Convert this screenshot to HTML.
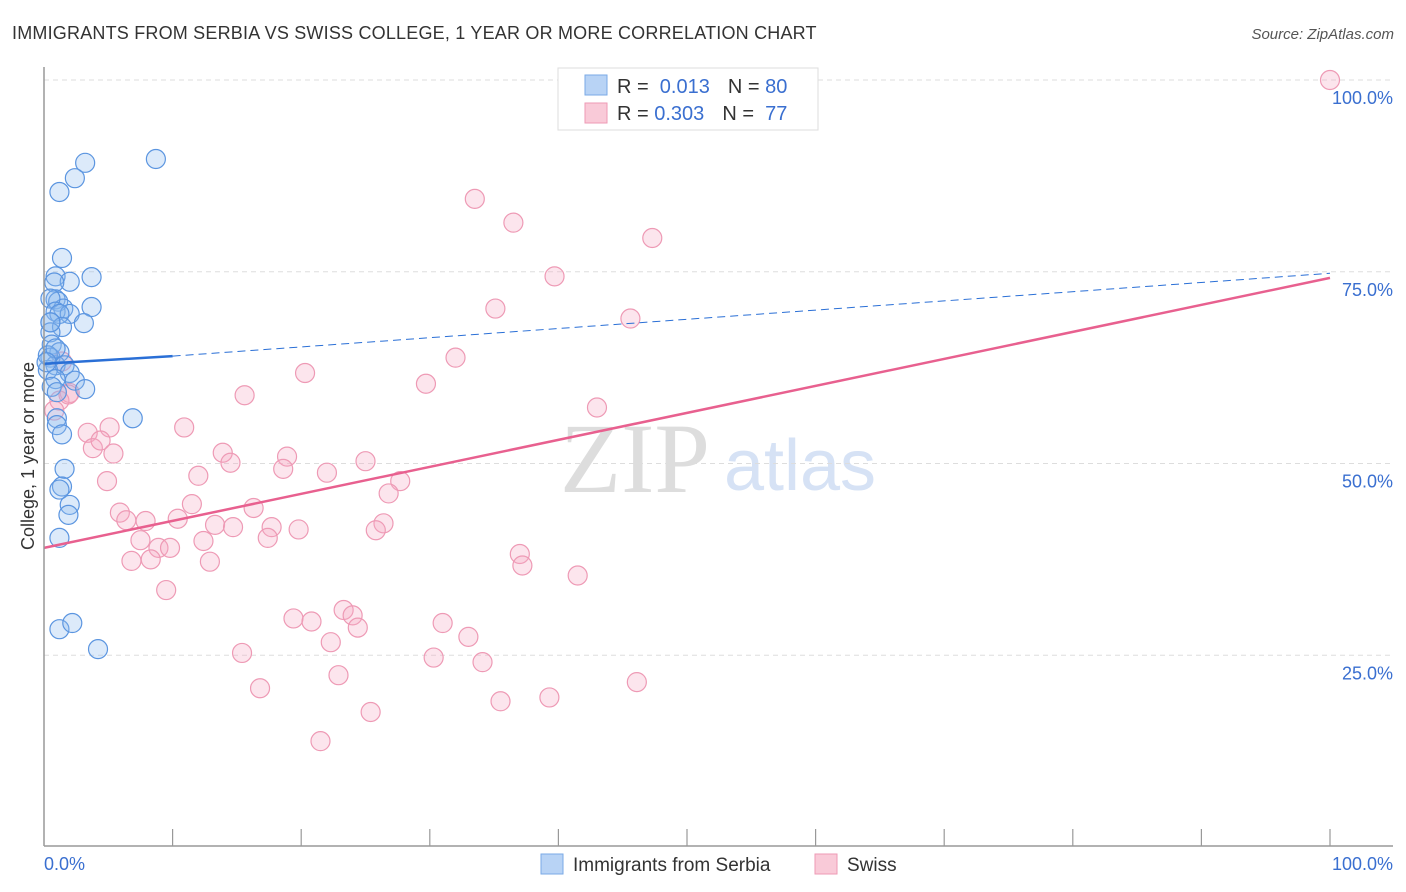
<!DOCTYPE html>
<html><head><meta charset="utf-8"><style>
body{margin:0;background:#fff;font-family:"Liberation Sans",sans-serif;}
svg{display:block}
</style></head><body>
<svg id="chart" width="1406" height="892">
<text x="12" y="39" font-size="18" fill="#333" letter-spacing="0.2">IMMIGRANTS FROM SERBIA VS SWISS COLLEGE, 1 YEAR OR MORE CORRELATION CHART</text>
<text x="1394" y="39" font-size="15" fill="#555" font-style="italic" text-anchor="end">Source: ZipAtlas.com</text>
<text x="34" y="456" font-size="18" fill="#333" text-anchor="middle" transform="rotate(-90 34 456)">College, 1 year or more</text>
<text x="635" y="492" font-size="100" fill="#ddd" font-family="Liberation Serif,serif" text-anchor="middle">ZIP</text>
<text x="800" y="490" font-size="72" fill="#d6e2f5" text-anchor="middle">atlas</text>
<g id="grid"></g><g id="marks"></g>
<line x1="44" y1="67" x2="44" y2="846" stroke="#999" stroke-width="1.5"/>
<line x1="44" y1="846" x2="1393" y2="846" stroke="#999" stroke-width="1.5"/>
<text x="44" y="870" font-size="18" fill="#3a6fd0">0.0%</text>
<text x="1393" y="870" font-size="18" fill="#3a6fd0" text-anchor="end">100.0%</text>
<g>
<rect x="558" y="68" width="260" height="62" fill="#fff" stroke="#ddd"/>
<rect x="585" y="75" width="22" height="20" fill="#b8d3f5" stroke="#7aa9e6"/>
<rect x="585" y="103" width="22" height="20" fill="#f9cad8" stroke="#ee9ab5"/>
<text x="617" y="93" font-size="20" fill="#333">R = <tspan fill="#3a6fd0">&#160;0.013</tspan><tspan dx="18">N = </tspan><tspan fill="#3a6fd0">80</tspan></text>
<text x="617" y="120" font-size="20" fill="#333">R = <tspan fill="#3a6fd0">0.303</tspan><tspan dx="18">N = </tspan><tspan fill="#3a6fd0">&#160;77</tspan></text>
</g>
<g>
<rect x="541" y="854" width="22" height="20" fill="#b8d3f5" stroke="#7aa9e6"/>
<text x="573" y="871" font-size="19" fill="#333">Immigrants from Serbia</text>
<rect x="815" y="854" width="22" height="20" fill="#f9cad8" stroke="#ee9ab5"/>
<text x="847" y="871" font-size="19" fill="#333">Swiss</text>
</g>
</svg>
<script>
const yTicks=[25,50,75,100];
const yTickLabels=["25.0%","50.0%","75.0%","100.0%"];
const xTicks=[10,20,30,40,50,60,70,80,90,100];
const blueX=[3.2,8.7,2.4,1.2,1.4,0.9,3.7,2.0,0.8,0.9,3.7,1.1,1.5,0.5,0.9,2.0,1.2,3.1,0.5,1.4,0.5,0.6,1.2,0.5,0.9,1.6,0.3,2.0,0.9,2.4,0.6,3.2,1.0,6.9,1.0,1.0,1.4,1.6,1.4,1.2,2.0,1.9,1.2,1.2,2.2,4.2,0.5,0.3,0.9,0.2];
const blueY=[89.2,89.7,87.2,85.4,76.8,74.4,74.3,73.7,73.6,71.4,70.4,71.1,70.2,71.5,69.8,69.5,69.5,68.3,68.4,67.8,67.1,65.5,64.5,63.8,62.8,62.8,62.2,61.8,61.0,60.8,60.0,59.7,59.3,55.9,55.9,55.0,53.8,49.3,47.0,46.6,44.6,43.3,40.3,28.4,29.2,25.8,68.4,64.1,65.0,63.2];
const pinkX=[33.5,36.5,47.3,39.7,35.1,45.6,32.0,20.3,29.7,15.6,43.0,5.1,10.9,3.4,3.8,4.4,5.4,13.9,18.9,14.5,25.0,18.6,22.0,12.0,4.9,27.7,26.8,16.3,11.5,5.9,6.4,7.9,10.4,13.3,14.7,17.7,19.8,26.4,25.8,17.4,7.5,12.4,8.9,9.8,6.8,8.3,12.9,37.0,37.2,41.5,9.5,23.3,24.0,19.4,20.8,24.4,31.0,33.0,22.3,15.4,30.3,34.1,46.1,22.9,16.8,39.3,35.5,25.4,21.5,100,1.4,2.0,1.2,0.8,1.9];
const pinkY=[84.5,81.4,79.4,74.4,70.2,68.9,63.8,61.8,60.4,58.9,57.3,54.7,54.7,54.0,52.0,53.0,51.3,51.4,50.9,50.1,50.3,49.3,48.8,48.4,47.7,47.7,46.1,44.2,44.7,43.6,42.6,42.5,42.8,42.0,41.7,41.7,41.4,42.2,41.3,40.3,40.0,39.9,39.0,39.0,37.3,37.5,37.2,38.2,36.7,35.4,33.5,30.9,30.2,29.8,29.4,28.6,29.2,27.4,26.7,25.3,24.7,24.1,21.5,22.4,20.7,19.5,19.0,17.6,13.8,100,63.3,59.2,58.2,56.9,59.0];
const blueTrend=[0,10,63.0,64.0,100,74.8];
const pinkTrend=[0,39.0,100,74.2];
const X0=44,X1=1330,Y0=847,Y100=80;
const sx=v=>X0+(X1-X0)*v/100, sy=v=>Y0-(Y0-Y100)*v/100;
const NS="http://www.w3.org/2000/svg";
const grid=document.getElementById('grid'),marks=document.getElementById('marks');
function mk(tag,attrs,parent){const e=document.createElementNS(NS,tag);for(const k in attrs)e.setAttribute(k,attrs[k]);parent.appendChild(e);return e;}
yTicks.forEach((t,i)=>{
 const l=mk('line',{x1:44,x2:1393,y1:sy(t),y2:sy(t),stroke:'#ddd','stroke-dasharray':'5,4'},grid);
 
 
 const tx=mk('text',{x:1393,y:sy(t)+24,'font-size':18,fill:'#3a6fd0','text-anchor':'end'},grid);
 tx.textContent=yTickLabels[i];
 
 
});
xTicks.forEach(t=>{
 const l=mk('line',{x1:sx(t),x2:sx(t),y1:829,y2:846,stroke:'#999','stroke-width':1.2},grid);
 
 
});
pinkX.forEach((x,i)=>{
 const c=mk('circle',{cx:sx(x),cy:sy(pinkY[i]),r:9.5,fill:'rgba(246,170,195,0.3)',stroke:'#ee9ab5','stroke-width':1.2},marks);
 
 
});
blueX.forEach((x,i)=>{
 const c=mk('circle',{cx:sx(x),cy:sy(blueY[i]),r:9.5,fill:'rgba(140,185,240,0.3)',stroke:'#5b95e0','stroke-width':1.2},marks);
 
 
});
let l=mk('line',{x1:sx(pinkTrend[0]),y1:sy(pinkTrend[1]),x2:sx(pinkTrend[2]),y2:sy(pinkTrend[3]),stroke:'#e8608f','stroke-width':2.5},marks);


l=mk('line',{x1:sx(blueTrend[0]),y1:sy(blueTrend[2]),x2:sx(blueTrend[1]),y2:sy(blueTrend[3]),stroke:'#2a6fd6','stroke-width':2.5},marks);


l=mk('line',{x1:sx(blueTrend[1]),y1:sy(blueTrend[3]),x2:sx(blueTrend[4]),y2:sy(blueTrend[5]),stroke:'#2a6fd6','stroke-width':1,'stroke-dasharray':'8,5'},marks);


</script>
</body></html>
